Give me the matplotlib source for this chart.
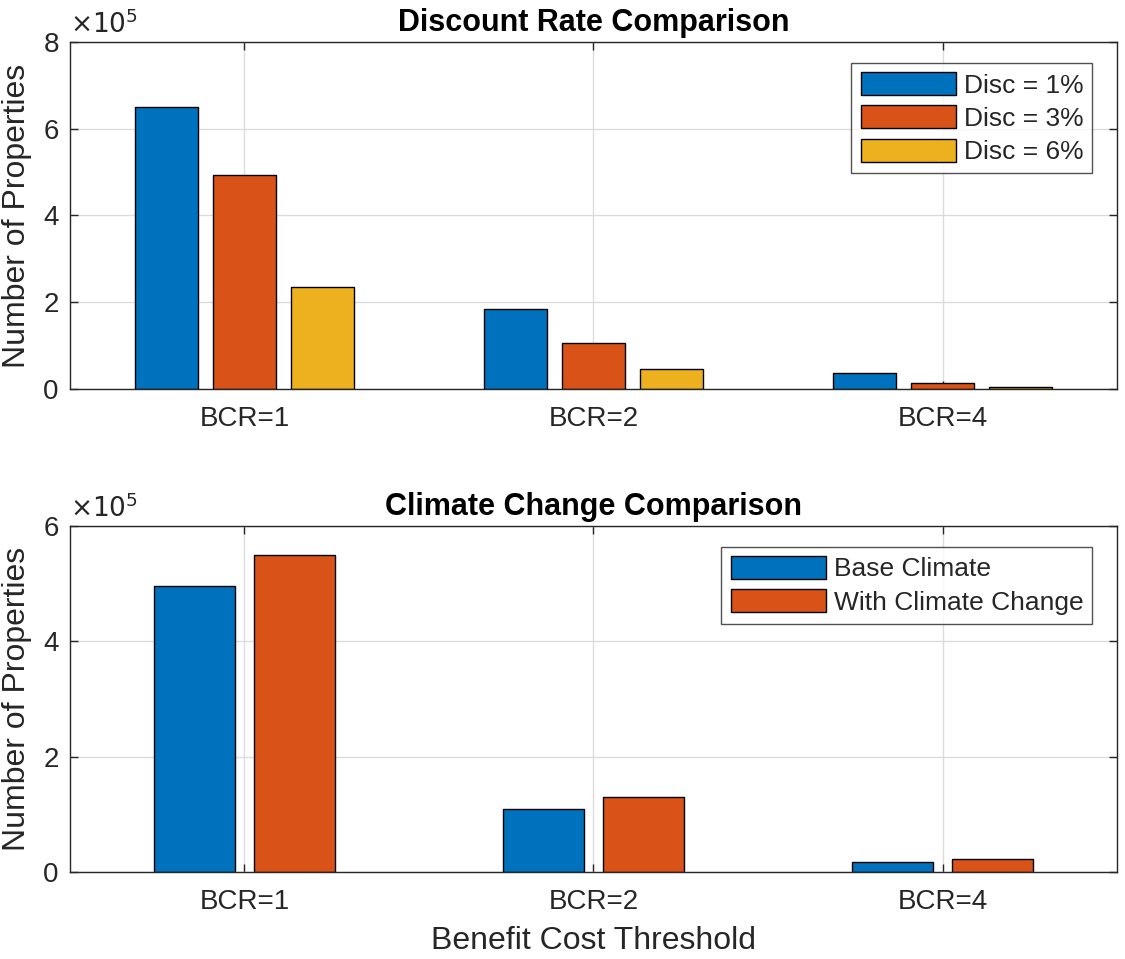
import numpy as np
import matplotlib
matplotlib.use("Agg")
import matplotlib.pyplot as plt
from matplotlib.ticker import FuncFormatter

plt.rcParams['font.family'] = ['Liberation Sans', 'DejaVu Sans']

categories = ["BCR=1", "BCR=2", "BCR=4"]

# top panel: number of properties per discount rate
disc_labels = ["Disc = 1%", "Disc = 3%", "Disc = 6%"]
disc_1 = [6.51e5, 1.85e5, 0.36e5]
disc_3 = [4.94e5, 1.06e5, 0.145e5]
disc_6 = [2.34e5, 0.46e5, 0.04e5]

# bottom panel: base climate vs climate change
clim_labels = ["Base Climate", "With Climate Change"]
base_climate = [4.96e5, 1.09e5, 0.173e5]
with_change = [5.50e5, 1.30e5, 0.225e5]

colors = ["#0072BD", "#D95319", "#EDB120"]
txt = "#262626"

fig = plt.figure(figsize=(11.25, 9.59), dpi=100)
ax1 = fig.add_axes([0.0622, 0.5944, 0.9307, 0.3618])
ax2 = fig.add_axes([0.0622, 0.0907, 0.9307, 0.3608])

x = np.arange(len(categories))


def style_axes(ax, ymax, step):
    ax.set_xlim(-0.5, 2.5)
    ax.set_ylim(0, ymax)
    ax.set_xticks(x)
    ax.set_xticklabels(categories)
    ax.set_yticks(np.arange(0, ymax + 1, step))
    ax.yaxis.set_major_formatter(FuncFormatter(lambda v, p: f"{v / 1e5:g}"))
    ax.grid(True, color="#dcdcdc", linewidth=1)
    ax.set_axisbelow(True)
    ax.tick_params(direction="in", length=6, width=1, colors=txt, labelsize=20,
                   top=True, right=True)
    ax.tick_params(axis="x", pad=12)
    ax.tick_params(axis="y", pad=8)
    for s in ax.spines.values():
        s.set_color(txt)
        s.set_linewidth(1)
    ax.set_ylabel("Number of Properties", fontsize=23, color=txt, labelpad=8)
    ax.text(0.0, 1.01, r"$\times10^5$", transform=ax.transAxes, fontsize=19,
            color=txt, ha="left", va="bottom",
            fontfamily="DejaVu Sans")


def add_legend(ax):
    leg = ax.legend(loc="upper right", bbox_to_anchor=(0.9765, 0.94), fontsize=19,
                    fancybox=False, edgecolor=txt, handlelength=3.6, handleheight=0.95,
                    handletextpad=0.3, borderpad=0.35, labelspacing=0.3, borderaxespad=0)
    leg.get_frame().set_linewidth(1)
    for t in leg.get_texts():
        t.set_color(txt)


# top: discount rate
w1 = 0.18
off1 = 0.223
for i, (vals, lab) in enumerate(zip([disc_1, disc_3, disc_6], disc_labels)):
    ax1.bar(x + (i - 1) * off1, vals, width=w1, color=colors[i],
            edgecolor="black", linewidth=1, label=lab)
style_axes(ax1, 8e5, 2e5)
ax1.set_title("Discount Rate Comparison", fontsize=22, fontweight="bold", color="black", pad=8)
add_legend(ax1)

# bottom: climate change
w2 = 0.23
off2 = 0.143
for i, (vals, lab) in enumerate(zip([base_climate, with_change], clim_labels)):
    ax2.bar(x + (2 * i - 1) * off2, vals, width=w2, color=colors[i],
            edgecolor="black", linewidth=1, label=lab)
style_axes(ax2, 6e5, 2e5)
ax2.set_title("Climate Change Comparison", fontsize=22, fontweight="bold", color="black", pad=8)
ax2.set_xlabel("Benefit Cost Threshold", fontsize=23, color=txt, labelpad=8)
add_legend(ax2)

fig.savefig("out.png", dpi=100)
